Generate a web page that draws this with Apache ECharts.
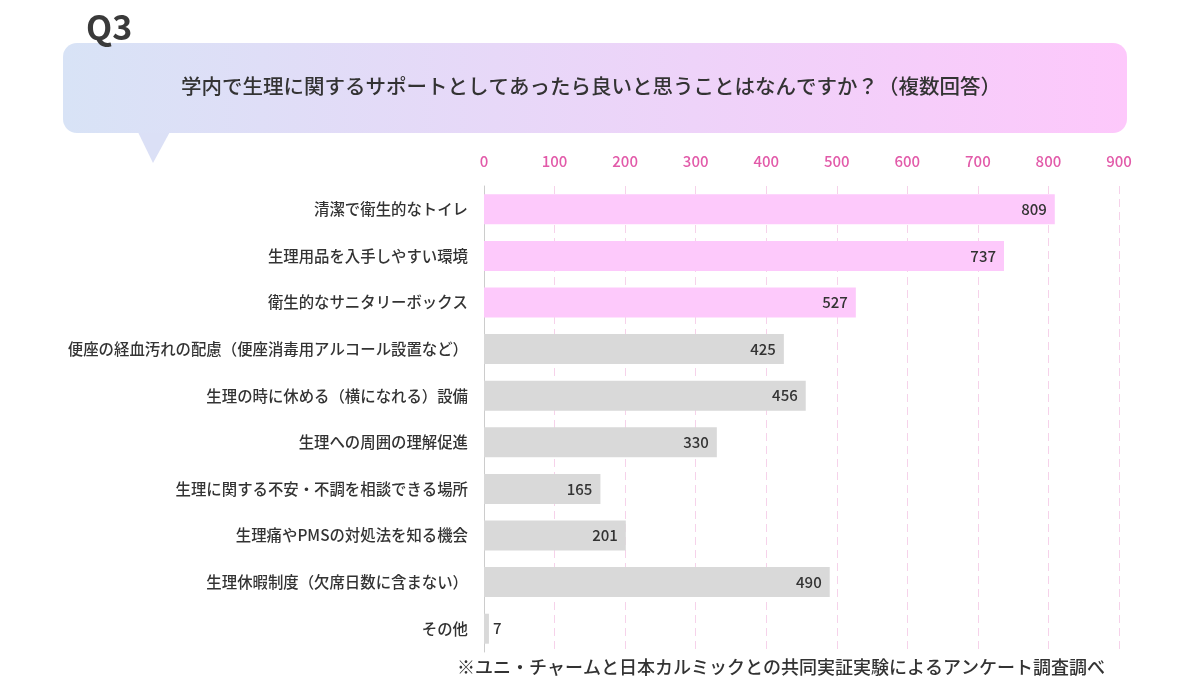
<!DOCTYPE html>
<html><head><meta charset="utf-8">
<script src="https://cdn.jsdelivr.net/npm/echarts@6/dist/echarts.min.js"></script>
<style>html,body{margin:0;padding:0;background:#fff}#c{width:1200px;height:692px}</style>
</head><body><div id="c"></div>
<script>
const categories = ['清潔で衛生的なトイレ','生理用品を入手しやすい環境','衛生的なサニタリーボックス','便座の経血汚れの配慮（便座消毒用アルコール設置など）','生理の時に休める（横になれる）設備','生理への周囲の理解促進','生理に関する不安・不調を相談できる場所','生理痛やPMSの対処法を知る機会','生理休暇制度（欠席日数に含まない）','その他'];
const values = [809, 737, 527, 425, 456, 330, 165, 201, 490, 7];
const highlighted = [true, true, true, false, false, false, false, false, false, false];
const axisTicks = [0, 900, 100];
const titleText = '学内で生理に関するサポートとしてあったら良いと思うことはなんですか？（複数回答）';
const qLabel = 'Q3';
const note = '※ユニ・チャームと日本カルミックとの共同実証実験によるアンケート調査調べ';

const font = '"Noto Sans CJK JP", "Noto Sans", sans-serif';
const chart = echarts.init(document.getElementById('c'));
chart.setOption({
  backgroundColor: '#fff',
  animation: false,
  textStyle: { fontFamily: font },
  graphic: [
    { type: 'polygon', shape: { points: [[136, 128], [172, 128], [153, 163]] },
      style: { fill: '#dbe0f6' } },
    { type: 'rect', shape: { x: 63, y: 43, width: 1064, height: 90, r: 14 },
      style: { fill: new echarts.graphic.LinearGradient(0, 0, 1, 0, [
        { offset: 0, color: '#d8e3f6' }, { offset: 1, color: '#fdc8fb' }]) } },
    { type: 'text', left: 86, top: 10,
      style: { text: qLabel, font: 'bold 34px ' + font, fill: '#3a3a3a' } },
    { type: 'text', x: 591, y: 86,
      style: { text: titleText, font: '500 20.5px ' + font, fill: '#333', align: 'center', verticalAlign: 'middle' } },
    { type: 'text', x: 1105, y: 667,
      style: { text: note, font: '500 18px ' + font, fill: '#333', align: 'right', verticalAlign: 'middle' } }
  ],
  grid: { left: 484, right: 81, top: 186, bottom: 40, containLabel: false },
  xAxis: {
    type: 'value', position: 'top', min: axisTicks[0], max: axisTicks[1], interval: axisTicks[2],
    axisLine: { show: false }, axisTick: { show: false },
    axisLabel: { color: '#e25aa9', fontSize: 15, fontWeight: 500, margin: 17, fontFamily: font },
    splitLine: { show: true, lineStyle: { color: '#f6d2ea', type: [8, 5], width: 1 } }
  },
  yAxis: {
    type: 'category', data: categories, inverse: true,
    axisLine: { show: true, lineStyle: { color: '#cccccc' } },
    axisTick: { show: false },
    axisLabel: { color: '#333', fontSize: 15.4, fontWeight: 500, margin: 16, fontFamily: font }
  },
  series: [{
    type: 'bar', barWidth: 30,
    data: values.map((v, i) => ({
      value: v,
      itemStyle: { color: highlighted[i] ? '#fdc9fb' : '#d9d9d9' },
      label: v < 30 ? { position: 'right', distance: 4 } : undefined
    })),
    label: { show: true, position: 'insideRight', distance: 8, color: '#333', fontSize: 15, fontWeight: 500, fontFamily: font }
  }]
});
</script></body></html>
